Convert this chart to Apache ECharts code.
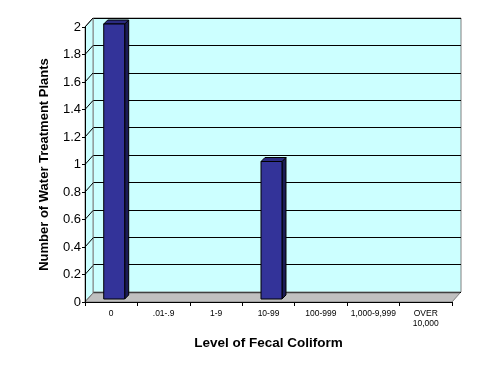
<!DOCTYPE html>
<html>
<head>
<meta charset="utf-8">
<script src="https://cdn.jsdelivr.net/npm/echarts@6/dist/echarts.min.js"></script>
<style>
html,body{margin:0;padding:0;background:#fff;}
#c{width:491px;height:374px;}
</style>
</head>
<body>
<div id="c"></div>
<script>
const categories = ['0', '.01-.9', '1-9', '10-99', '100-999', '1,000-9,999', 'OVER\n10,000'];
const values = [2, 0, 0, 1, 0, 0, 0];
const yTicks = [0, 0.2, 0.4, 0.6, 0.8, 1, 1.2, 1.4, 1.6, 1.8, 2];

const DX = 8, DY = -9;          // wall depth offset
const BOX = 3, BOY = -3;        // bar position inside depth
const BDX = 4, BDY = -4;        // bar depth

const chart = echarts.init(document.getElementById('c'), null, {renderer: 'canvas'});
const FONT = '"Liberation Sans", Arial, sans-serif';

const option = {
  animation: false,
  backgroundColor: '#ffffff',
  grid: [
    {left: 93, top: 18, width: 368, height: 274, show: true, backgroundColor: '#CCFFFF', borderColor: '#808080', borderWidth: 1, z: 0},
    {left: 85, top: 27, width: 367, height: 275, show: false}
  ],
  xAxis: [
    {gridIndex: 0, type: 'value', min: 0, max: 7, show: false},
    {gridIndex: 1, type: 'category', data: categories, position: 'bottom',
     axisLine: {show: true, lineStyle: {color: '#000', width: 1}},
     axisTick: {show: true, length: 4, lineStyle: {color: '#000'}},
     axisLabel: {interval: 0, fontSize: 8.5, fontFamily: FONT, color: '#000', margin: 7, lineHeight: 10},
     name: 'Level of Fecal Coliform', nameLocation: 'middle', nameGap: 34,
     nameTextStyle: {fontSize: 13.5, fontWeight: 'bold', fontFamily: FONT, color: '#000'},
     z: 5},
    {gridIndex: 1, type: 'value', min: 0, max: 7, show: false}
  ],
  yAxis: [
    {gridIndex: 0, type: 'value', min: 0, max: 2, interval: 0.2,
     axisLine: {show: false}, axisTick: {show: false}, axisLabel: {show: false},
     splitLine: {show: true, lineStyle: {color: '#000', width: 1}}},
    {gridIndex: 1, type: 'value', min: 0, max: 2, interval: 0.2,
     axisLine: {show: true, lineStyle: {color: '#000', width: 1}},
     axisTick: {show: true, length: 3, inside: false, lineStyle: {color: '#000'}},
     axisLabel: {fontSize: 13, fontFamily: FONT, color: '#000', margin: 4},
     splitLine: {show: false},
     name: 'Number of Water Treatment Plants', nameLocation: 'middle', nameGap: 34,
     nameTextStyle: {fontSize: 13, fontWeight: 'bold', fontFamily: FONT, color: '#000'},
     z: 5}
  ],
  series: [
    {
      type: 'custom', name: 'walls', xAxisIndex: 2, yAxisIndex: 1, clip: false, silent: true, z: 1,
      data: [[0, 0]],
      renderItem: function (params, api) {
        const fl = api.coord([0, 0]);
        const fr = api.coord([7, 0]);
        const tl = api.coord([0, 2]);
        const children = [];
        children.push({type: 'polygon', shape: {points: [[fl[0], fl[1]], [tl[0], tl[1]], [tl[0] + DX, tl[1] + DY], [fl[0] + DX, fl[1] + DY]]},
          style: {fill: '#CCFFFF', stroke: '#808080', lineWidth: 1}});
        children.push({type: 'polygon', shape: {points: [[fl[0], fl[1]], [fr[0], fr[1]], [fr[0] + DX, fr[1] + DY], [fl[0] + DX, fl[1] + DY]]},
          style: {fill: '#C0C0C0', stroke: '#808080', lineWidth: 1}});
        yTicks.forEach(function (v) {
          const p = api.coord([0, v]);
          children.push({type: 'line', shape: {x1: p[0], y1: p[1], x2: p[0] + DX, y2: p[1] + DY},
            style: {stroke: v === 0 ? '#808080' : '#000', lineWidth: 1}});
        });
        return {type: 'group', children: children};
      }
    },
    {
      type: 'custom', name: 'Plants', xAxisIndex: 2, yAxisIndex: 1, clip: false, z: 3,
      data: values.map(function (v, i) { return [i + 0.5, v]; }),
      renderItem: function (params, api) {
        const x = api.value(0), v = api.value(1);
        if (!v) return null;
        const c = api.coord([x, v]);
        const b = api.coord([x, 0]);
        const w = api.size([1, 0])[0] * 0.4;
        const x0 = c[0] - w / 2 + BOX, y0 = c[1] + BOY;
        const h = b[1] - c[1];
        return {type: 'group', children: [
          {type: 'polygon', shape: {points: [[x0 + w, y0], [x0 + w + BDX, y0 + BDY], [x0 + w + BDX, y0 + h + BDY], [x0 + w, y0 + h]]},
            style: {fill: '#1B1B55', stroke: '#000', lineWidth: 1}},
          {type: 'polygon', shape: {points: [[x0, y0], [x0 + BDX, y0 + BDY], [x0 + w + BDX, y0 + BDY], [x0 + w, y0]]},
            style: {fill: '#2B2B80', stroke: '#000', lineWidth: 1}},
          {type: 'rect', shape: {x: x0, y: y0, width: w, height: h},
            style: {fill: '#333399', stroke: '#000', lineWidth: 1}}
        ]};
      }
    }
  ]
};
chart.setOption(option);
</script>
</body>
</html>
